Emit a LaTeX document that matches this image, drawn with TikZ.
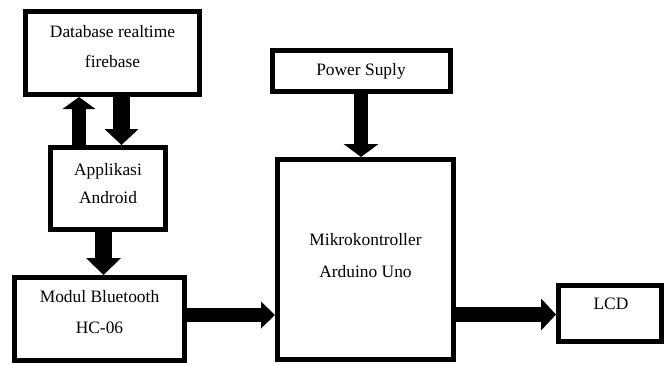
\documentclass[tikz,border=0pt]{standalone}
\usepackage{fontspec}
\setmainfont{Liberation Serif}
\usetikzlibrary{arrows.meta}
\begin{document}
\begin{tikzpicture}[x=1pt,y=-1pt,
  box/.style={draw, line width=5pt, inner sep=0pt},
  lbl/.style={anchor=base, inner sep=0pt, font=\fontsize{17.4}{20}\selectfont},
  blk/.style={line width=#1},
  blocktip/.style 2 args={-{Triangle[length=#1,width=#2,line width=0pt]}}]
\useasboundingbox (0,0) rectangle (671,365);
% boxes
\node[box, minimum width=174pt, minimum height=83pt] (db) at (112.5,53) {};
\node[box, minimum width=115pt, minimum height=82pt] (android) at (108,188.5) {};
\node[box, minimum width=170pt, minimum height=83pt] (bt) at (99.5,319) {};
\node[box, minimum width=178pt, minimum height=41pt] (power) at (361.5,71) {};
\node[box, minimum width=176pt, minimum height=200pt] (mikro) at (365.5,259.5) {};
\node[box, minimum width=103pt, minimum height=56pt] (lcd) at (610,313.5) {};
% labels
\node[lbl] (db1) at (112.5,37) {Database realtime};
\node[lbl] (db2) at (112.5,67) {firebase};
\node[lbl] (an1) at (108,175) {Applikasi};
\node[lbl] (an2) at (108,203) {Android};
\node[lbl] (bt1) at (99.5,302) {Modul Bluetooth};
\node[lbl] (bt2) at (99.5,333) {HC-06};
\node[lbl] (pw1) at (361,75) {Power Suply};
\node[lbl] (mk1) at (365.5,245) {Mikrokontroller};
\node[lbl] (mk2) at (365.5,277) {Arduino Uno};
\node[lbl] (lc1) at (611,309) {LCD};
% arrows
\draw[blk=14pt, blocktip={12pt}{33pt}] (79,0 |- android.north) -- (79,0 |- db.south);
\draw[blk=17pt, blocktip={16pt}{34pt}] (121.5,0 |- db.south) -- (121.5,0 |- android.north);
\draw[blk=17pt, blocktip={17pt}{35pt}] (103.5,0 |- android.south) -- (103.5,0 |- bt.north);
\draw[blk=14pt, blocktip={14pt}{27pt}] (bt.east |- 0,315) -- (mikro.west |- 0,315);
\draw[blk=14pt, blocktip={13pt}{35pt}] (361,0 |- power.south) -- (361,0 |- mikro.north);
\draw[blk=15pt, blocktip={15pt}{32pt}] (mikro.east |- 0,314.5) -- (lcd.west |- 0,314.5);
\end{tikzpicture}
\end{document}
